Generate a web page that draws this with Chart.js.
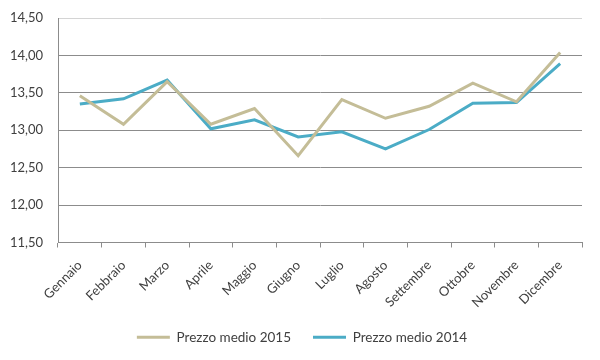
<!DOCTYPE html>
<html><head><meta charset="utf-8">
<script src="https://cdn.jsdelivr.net/npm/chart.js@4"></script>
<style>html,body{margin:0;padding:0;background:#fff}#wrap{width:600px;height:360px}</style>
</head><body><div id="wrap"><canvas id="c"></canvas></div>
<script>
const categories = ['Gennaio','Febbraio','Marzo','Aprile','Maggio','Giugno','Luglio','Agosto','Settembre','Ottobre','Novembre','Dicembre'];
const prezzo2015 = [13.46, 13.08, 13.65, 13.08, 13.29, 12.66, 13.41, 13.16, 13.32, 13.63, 13.38, 14.04];
const prezzo2014 = [13.35, 13.42, 13.67, 13.02, 13.14, 12.91, 12.98, 12.75, 13.01, 13.36, 13.37, 13.89];
const seriesNames = ['Prezzo medio 2015', 'Prezzo medio 2014'];
const yTicks = [11.5, 12.0, 12.5, 13.0, 13.5, 14.0, 14.5];

const FONT = 'Lato';
const shiftLegend = {
  id: 'shiftLegend',
  afterLayout(chart) {
    if (chart.legend) { chart.legend.left += 11; chart.legend.right += 11; }
  }
};
new Chart(document.getElementById('c'), {
  type: 'line',
  data: {
    labels: categories,
    datasets: [
      { label: seriesNames[0], data: prezzo2015, borderColor: '#C4BD97', backgroundColor: '#C4BD97', borderWidth: 3, pointRadius: 0, tension: 0 },
      { label: seriesNames[1], data: prezzo2014, borderColor: '#4BACC6', backgroundColor: '#4BACC6', borderWidth: 3, pointRadius: 0, tension: 0 }
    ]
  },
  plugins: [shiftLegend],
  options: {
    responsive: true, maintainAspectRatio: false, animation: false,
    layout: { padding: { left: 0, right: 18, top: 18, bottom: 6 } },
    plugins: {
      tooltip: { enabled: false },
      legend: {
        position: 'bottom',
        labels: { usePointStyle: true, pointStyle: 'line', pointStyleWidth: 33, boxHeight: 13, padding: 22, color: '#404040', font: { family: FONT, size: 13.5 } }
      }
    },
    scales: {
      y: {
        min: yTicks[0], max: yTicks[yTicks.length - 1],
        afterBuildTicks: s => { s.ticks = yTicks.map(v => ({ value: v })); },
        afterFit: s => { s.width = 58; },
        ticks: { color: '#404040', padding: 4, font: { family: FONT, size: 13 }, callback: v => Number(v).toFixed(2).replace('.', ',') },
        grid: { color: c => (c.tick && c.tick.value === yTicks[yTicks.length - 1]) ? '#d4d4d4' : '#8c8c8c', drawTicks: true, tickLength: 11, tickColor: 'rgba(0,0,0,0)', lineWidth: 1 },
        border: { color: '#8c8c8c' }
      },
      x: {
        offset: true,
        afterFit: s => { s.height = 66; },
        ticks: { color: '#404040', minRotation: 45, maxRotation: 45, autoSkip: false, font: { family: FONT, size: 13 }, padding: 10 },
        grid: { offset: true, drawOnChartArea: false, drawTicks: true, tickLength: 5, color: '#8c8c8c' },
        border: { color: '#8c8c8c' }
      }
    }
  }
});
</script></body></html>
